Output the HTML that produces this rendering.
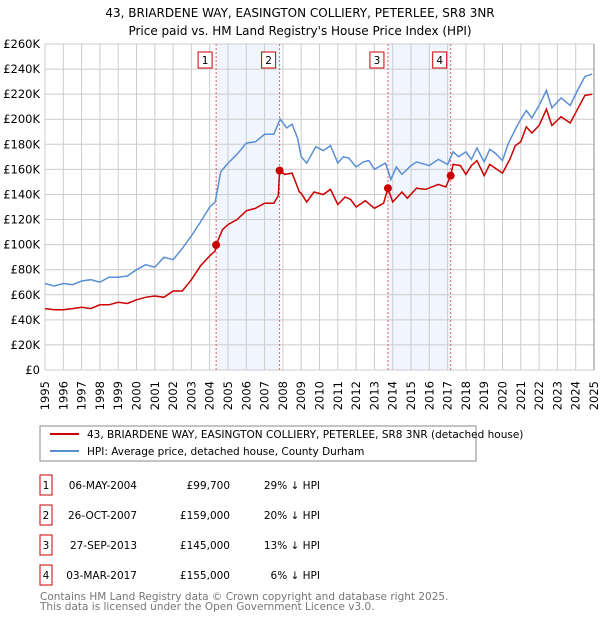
<!DOCTYPE html>
<html><head><meta charset="utf-8"><style>
body{margin:0;background:#fff;font-family:"Liberation Sans","DejaVu Sans",sans-serif;}
svg text{font-family:"DejaVu Sans","Liberation Sans",sans-serif;}
</style></head><body>
<svg id="c" width="600" height="620" xmlns="http://www.w3.org/2000/svg">
<text x="300" y="17" text-anchor="middle" font-size="12">43, BRIARDENE WAY, EASINGTON COLLIERY, PETERLEE, SR8 3NR</text>
<text x="300" y="35" text-anchor="middle" font-size="12">Price paid vs. HM Land Registry's House Price Index (HPI)</text>
<g id="plot"></g>
<rect x="40" y="426" width="436" height="35" fill="#fff" stroke="#888"/>
<line x1="50" y1="434" x2="79" y2="434" stroke="#cc0000" stroke-width="2"/>
<text x="87" y="438" font-size="10.5">43, BRIARDENE WAY, EASINGTON COLLIERY, PETERLEE, SR8 3NR (detached house)</text>
<line x1="50" y1="451" x2="79" y2="451" stroke="#5b8fd4" stroke-width="2"/>
<text x="87" y="455" font-size="10.5">HPI: Average price, detached house, County Durham</text>
<g id="table" font-size="10.5"></g>
<text x="40" y="600" font-size="10.5" fill="#777">Contains HM Land Registry data © Crown copyright and database right 2025.</text>
<text x="40" y="610" font-size="10.5" fill="#777">This data is licensed under the Open Government Licence v3.0.</text>
</svg>
<script>
const hpiYears=[1995,1995.5,1996,1996.5,1997,1997.5,1998,1998.5,1999,1999.5,2000,2000.5,2001,2001.5,2002,2002.5,2003,2003.5,2004,2004.3,2004.6,2005,2005.5,2006,2006.5,2007,2007.5,2007.85,2008.2,2008.5,2008.8,2009,2009.3,2009.8,2010.2,2010.6,2011,2011.3,2011.6,2012,2012.4,2012.7,2013,2013.6,2013.9,2014.2,2014.5,2015,2015.3,2016,2016.5,2017,2017.3,2017.6,2018,2018.3,2018.6,2019,2019.3,2019.6,2020,2020.3,2020.7,2021,2021.3,2021.6,2022,2022.4,2022.7,2023.2,2023.7,2024.1,2024.5,2024.9];
const hpiValues=[69,67,69,68,71,72,70,74,74,75,80,84,82,90,88,97,107,118,130,134,158,165,172,181,182,188,188,200,193,196,185,170,165,178,175,179,165,170,169,162,166,167,160,165,152,162,156,163,166,163,168,164,174,170,174,168,177,166,176,173,167,180,192,200,207,201,211,223,209,217,211,223,234,236];
const redYears=[1995,1995.5,1996,1996.5,1997,1997.5,1998,1998.5,1999,1999.5,2000,2000.5,2001,2001.5,2002,2002.5,2003,2003.5,2004,2004.3,2004.35,2004.7,2005,2005.5,2006,2006.5,2007,2007.5,2007.75,2007.82,2008.1,2008.5,2008.9,2009,2009.3,2009.7,2010.2,2010.6,2011,2011.4,2011.7,2012,2012.5,2013,2013.5,2013.74,2014,2014.5,2014.8,2015.3,2015.8,2016.5,2016.9,2017.17,2017.3,2017.7,2018,2018.3,2018.6,2019,2019.3,2019.6,2020,2020.4,2020.7,2021,2021.3,2021.6,2022,2022.4,2022.7,2023.2,2023.7,2024.1,2024.5,2024.9];
const redValues=[49,48,48,49,50,49,52,52,54,53,56,58,59,58,63,63,72,83,91,95,99.7,112,116,120,127,129,133,133,139,159,156,157,142,141,134,142,140,144,132,138,136,130,135,129,133,145,134,142,137,145,144,148,146,155,164,163,156,163,167,155,164,161,157,168,179,182,194,189,195,208,195,202,197,208,219,220];
const saleYears=[2004.35,2007.82,2013.74,2017.17];
const salePrices=[99.7,159,145,155];
const saleLabels=["1","2","3","4"];
const saleDates=["06-MAY-2004","26-OCT-2007","27-SEP-2013","03-MAR-2017"];
const salePriceText=["£99,700","£159,000","£145,000","£155,000"];
const saleDiff=["29% ↓ HPI","20% ↓ HPI","13% ↓ HPI","6% ↓ HPI"];
const yTicks=[0,20,40,60,80,100,120,140,160,180,200,220,240,260];
const xTicks=[];for(let y=1995;y<=2025;y++)xTicks.push(y);

const L=45,R=594,T=44,B=370;
const X=y=>L+(y-1995)/30*(R-L);
const Y=v=>B-v/260*(B-T);
const NS="http://www.w3.org/2000/svg";
const plot=document.getElementById('plot');
function mk(tag,at,parent){const e=document.createElementNS(NS,tag);for(const k in at)e.setAttribute(k,at[k]);(parent||plot).appendChild(e);return e;}

for(let i=0;i<saleYears.length;i+=2){
 const r=mk('rect',{x:X(saleYears[i]),y:T,width:X(saleYears[i+1])-X(saleYears[i]),height:B-T,fill:'#eef3fc',opacity:0.8});
 
 
}
yTicks.forEach(v=>{
 const l=mk('line',{x1:L,x2:R,y1:Y(v),y2:Y(v),stroke:'#ccc','stroke-width':1});
 
 
 const t=mk('text',{x:40,y:Y(v)+4,'text-anchor':'end','font-size':11.5});
 t.textContent=v===0?'£0':'£'+v+'K';
 
 
});
xTicks.forEach(yr=>{
 const l=mk('line',{x1:X(yr),x2:X(yr),y1:T,y2:B,stroke:'#ccc','stroke-width':1});
 
 
 const t=mk('text',{x:0,y:0,'text-anchor':'end','font-size':11.5,transform:`translate(${X(yr)+4},381) rotate(-90)`});
 t.textContent=yr;
 
 
});
const rb=mk('line',{x1:R,x2:R,y1:T,y2:B,stroke:'#888','stroke-width':1});


saleYears.forEach((y,i)=>{
 const l=mk('line',{x1:X(y),x2:X(y),y1:T,y2:B,stroke:'#e06060','stroke-width':1,'stroke-dasharray':'2,2'});
 
 
 const bx=mk('rect',{x:X(y)-18,y:52,width:14,height:16,fill:'#fff',stroke:'#cc0000'});
 
 
 const t=mk('text',{x:X(y)-11,y:64,'text-anchor':'middle','font-size':10.5});
 t.textContent=saleLabels[i];
 
 
});
function pts(xs,vs){return xs.map((x,i)=>X(x).toFixed(1)+','+Y(vs[i]).toFixed(1)).join(' ');}
const hp=mk('polyline',{points:pts(hpiYears,hpiValues),fill:'none',stroke:'#5b8fd4','stroke-width':1.5});


const rp=mk('polyline',{points:pts(redYears,redValues),fill:'none',stroke:'#cc0000','stroke-width':1.5});


saleYears.forEach((y,i)=>{
 const c=mk('circle',{cx:X(y),cy:Y(salePrices[i]),r:4,fill:'#cc0000'});
 
 
});
const tb=document.getElementById('table');
saleDates.forEach((d,i)=>{
 const yy=483+i*30;
 const b=mk('rect',{x:40,y:yy-8,width:12,height:20,fill:'#fff',stroke:'#cc0000'},tb);
 
 
 const cells=[[46,saleLabels[i],'middle'],[137,d,'end'],[230,salePriceText[i],'end'],[320,saleDiff[i],'end']];
 cells.forEach(c=>{
  const t=mk('text',{x:c[0],y:yy+6,'text-anchor':c[2]},tb);
  t.textContent=c[1];
  
  
 });
});
</script>
</body></html>
